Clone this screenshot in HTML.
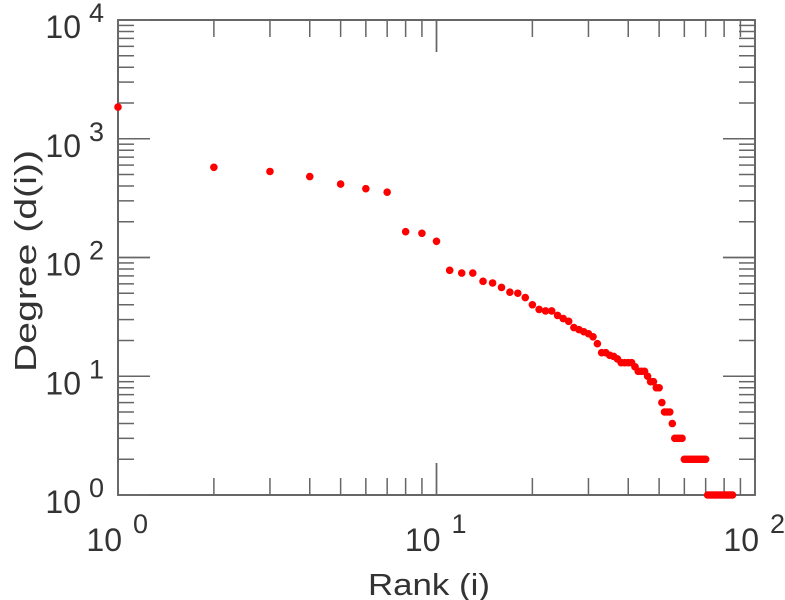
<!DOCTYPE html>
<html><head><meta charset="utf-8"><style>
html,body{margin:0;padding:0;background:#fff;}
svg{display:block;font-family:"Liberation Sans",sans-serif;}
</style></head><body>
<svg id="chart" width="785" height="600" viewBox="0 0 785 600">
<g id="axes"></g>
<g id="marks"></g>
<text x="0" y="0" transform="translate(36,261) rotate(-90)" text-anchor="middle" font-size="31" textLength="222" lengthAdjust="spacingAndGlyphs" fill="#333">Degree (d(i))</text>
<text x="368" y="595" font-size="31" textLength="122" lengthAdjust="spacingAndGlyphs" fill="#333">Rank (i)</text>
</svg>
<script>
const degrees = [1850,575,530,480,415,380,355,165,160,137,
78,74,74,63,61,56,51,50,46,40,
36.5,35.5,35.5,32.5,30.6,29,25.7,24.7,23.7,22.8,
21.5,18.8,15.8,15.8,15,14.7,14,13,13,13,
13,12,11,11,11,10,9,9,8,8,
6,5,5,5,4,3,3,3,3,2,
2,2,2,2,2,2,2,2,2,2,
1,1,1,1,1,1,1,1,1,1,
1,1,1,1,1];
const xTickExps = [0,1,2];
const yTickExps = [0,1,2,3,4];

const L=118,R=755,T=20,B=495;
const NS="http://www.w3.org/2000/svg";
function xs(v){return L+(R-L)*(Math.log10(v)-0)/2;}
function ys(v){return B-(B-T)*(Math.log10(v)-0)/4;}
const axes=document.getElementById('axes');
const marks=document.getElementById('marks');
function line(x1,y1,x2,y2,name){
  const l=document.createElementNS(NS,'line');
  l.setAttribute('x1',x1);l.setAttribute('y1',y1);l.setAttribute('x2',x2);l.setAttribute('y2',y2);
  l.setAttribute('stroke','#666');l.setAttribute('stroke-width','1.5');
  
  
  axes.appendChild(l);
}
const fr=document.createElementNS(NS,'rect');
fr.setAttribute('x',L);fr.setAttribute('y',T);fr.setAttribute('width',R-L);fr.setAttribute('height',B-T);
fr.setAttribute('fill','none');fr.setAttribute('stroke','#555');fr.setAttribute('stroke-width','1.8');


axes.appendChild(fr);
for(let e=0;e<4;e++){
  for(let m=1;m<=10;m++){
    const v=m*Math.pow(10,e);const y=ys(v);const len=(m===1||m===10)?32:16;
    line(L,y,L+len,y,'y-tick');line(R,y,R-len,y,'y-tick-right');
  }
}
for(let e=0;e<2;e++){
  for(let m=1;m<=10;m++){
    const v=m*Math.pow(10,e);const x=xs(v);const len=(m===1||m===10)?32:17;
    line(x,B,x,B-len,'x-tick');line(x,T,x,T+len,'x-tick-top');
  }
}
function label(x,y,sx,sy,exp,name){
  const t=document.createElementNS(NS,'text');
  t.setAttribute('x',x);t.setAttribute('y',y);t.setAttribute('font-size','32');t.setAttribute('fill','#333');
  t.setAttribute('text-anchor','end');
  t.textContent='10';
  
  
  axes.appendChild(t);
  const s=document.createElementNS(NS,'text');
  s.setAttribute('x',sx);s.setAttribute('y',sy);s.setAttribute('font-size','27');s.setAttribute('fill','#333');
  s.textContent=String(exp);
  
  
  axes.appendChild(s);
}
yTickExps.forEach(e=>{const y=ys(Math.pow(10,e));label(81,y+18,89,y+2,e,'y-tick-label');});
xTickExps.forEach(e=>{const x=xs(Math.pow(10,e));label(x+4,551,x+15,533,e,'x-tick-label');});
degrees.forEach((d,i)=>{
  const c=document.createElementNS(NS,'circle');
  c.setAttribute('cx',xs(i+1));c.setAttribute('cy',ys(d));c.setAttribute('r','3.8');c.setAttribute('fill','#ff0000');
  
  
  marks.appendChild(c);
});
</script>
</body></html>
